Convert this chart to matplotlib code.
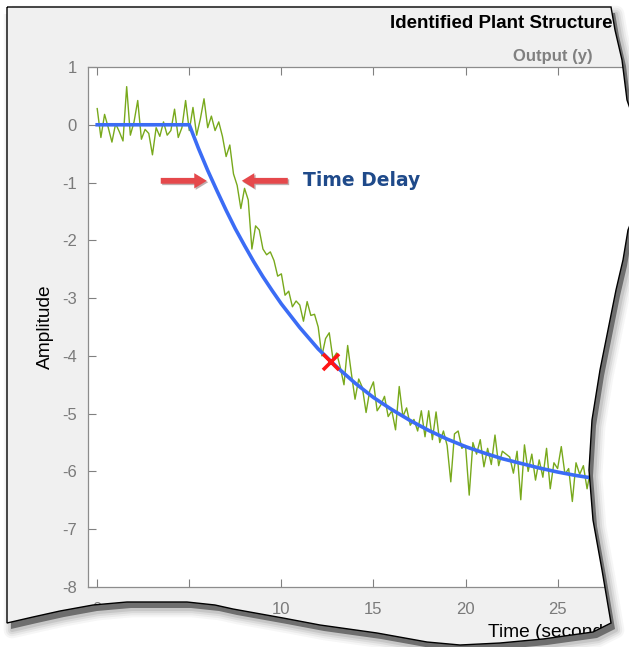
import numpy as np
import matplotlib
matplotlib.use('Agg')
import matplotlib.pyplot as plt
from matplotlib.path import Path
from matplotlib.patches import PathPatch, Polygon
import matplotlib.patheffects as pe

plt.rcParams['font.family'] = ['Liberation Sans', 'DejaVu Sans']
plt.rcParams['axes.unicode_minus'] = False

meas_dt = 0.2
meas_y = [
    0.28, -0.22, 0.18, -0.05, -0.30, 0.02, -0.12, -0.28, 0.66, -0.18,
    0.05, 0.42, -0.25, -0.08, -0.15, -0.52, -0.05, -0.20, 0.05, -0.18,
    -0.10, 0.27, -0.22, -0.05, 0.42, -0.10, 0.30, -0.18, 0.10, 0.45,
    -0.05, 0.15, -0.10, 0.05, -0.20, -0.55, -0.35, -0.85, -1.05, -1.45,
    -1.10, -1.30, -2.15, -1.75, -1.82, -2.15, -2.25, -2.20, -2.35, -2.62,
    -2.58, -2.95, -2.88, -3.15, -3.05, -3.12, -3.40, -3.06, -3.30, -3.28,
    -3.50, -4.00, -3.70, -3.60, -4.05, -3.95, -4.20, -4.50, -3.82, -4.30,
    -4.75, -4.40, -4.55, -4.98, -4.60, -4.45, -4.95, -4.85, -4.70, -5.05,
    -4.95, -5.28, -4.53, -5.05, -4.90, -5.20, -5.10, -5.30, -4.95, -5.40,
    -4.95, -5.45, -4.97, -5.50, -5.30, -5.55, -6.18, -5.35, -5.30, -5.60,
    -5.55, -6.41, -5.50, -5.70, -5.45, -5.92, -5.60, -5.88, -5.37, -5.90,
    -5.65, -5.70, -5.75, -6.03, -5.65, -6.49, -5.54, -6.00, -5.70, -6.15,
    -5.80, -6.10, -5.60, -6.30, -5.85, -5.95, -5.57, -6.05, -5.95, -6.52,
    -5.85, -6.05, -5.90, -6.30, -5.95, -6.10, -6.00, -6.20, -6.05, -6.25,
    -6.10,
]

# identified model response
model_t = [0, 5, 5.5, 6, 6.5, 7, 7.5, 8, 8.5, 9, 9.5, 10, 11, 12, 13, 14, 15,
           16, 17, 18, 19, 20, 21, 22, 23, 24, 25, 26, 27, 28, 29, 30]
model_y = [0, 0, -0.41, -0.79, -1.14, -1.48, -1.80, -2.09, -2.37, -2.63,
           -2.87, -3.10, -3.51, -3.88, -4.19, -4.47, -4.72, -4.93, -5.12,
           -5.29, -5.44, -5.57, -5.68, -5.78, -5.86, -5.94, -6.01, -6.07,
           -6.12, -6.16, -6.19, -6.22]

tau_point = (12.7, -4.10)
xticks = [0, 5, 10, 15, 20, 25, 30, 35, 40, 45, 50]
yticks = [1, 0, -1, -2, -3, -4, -5, -6, -7, -8]

W, H = 629, 647
fig = plt.figure(figsize=(W / 100, H / 100), dpi=100, facecolor='#f0f0f0')

# axes extend past the torn right edge of the screenshot
ax = fig.add_axes([88 / W, 60 / H, 930 / W, 520 / H])
meas_t = np.arange(len(meas_y)) * meas_dt
ax.plot(meas_t, meas_y, color='#78a91c', lw=1.0)
ax.plot(model_t, model_y, color='#3b6cf5', lw=2.6)
ax.plot(*tau_point, marker='x', color='#ff1515', ms=11, mew=2.6)

ax.set_xlim(-0.5, 50)
ax.set_ylim(-8, 1)
ax.set_xticks(xticks)
ax.set_yticks(yticks)
ax.tick_params(direction='in', top=True, right=True, length=6, width=0.8,
               color='#808080', labelcolor='#7a7a7a', labelsize=12)
ax.tick_params(axis='x', pad=11)
ax.tick_params(axis='y', pad=8)
for s in ax.spines.values():
    s.set_color('#8c8c8c')
    s.set_linewidth(0.9)
ax.set_ylabel('Amplitude', fontsize=13.8, labelpad=6)
ax.set_xlabel('Time (seconds)', fontsize=13.8, labelpad=5)
ax.set_title('Output (y)', color='#808080', fontweight='bold', fontsize=12, pad=4)

fig.text(390 / W, 1 - 23 / H, 'Identified Plant Structure', fontsize=13.5,
         fontweight='bold', ha='left', va='center')

# time delay annotation
arrow = dict(arrowstyle='simple,head_length=0.9,head_width=1.1,tail_width=0.42',
             color='#e5484b', lw=0,
             path_effects=[pe.SimplePatchShadow(offset=(1, -1), alpha=0.35), pe.Normal()])
ax.annotate('', xy=(6.1, -0.97), xytext=(3.3, -0.97), arrowprops=arrow)
ax.annotate('', xy=(7.7, -0.97), xytext=(10.5, -0.97), arrowprops=arrow)
ax.text(11.2, -0.97, 'Time Delay', color='#1f4a8a', fontsize=13.5,
        fontweight='bold', family='DejaVu Sans', va='center')

# torn page overlay (pixel coordinates)
page = [(7, 7), (611, 7), (615, 30), (622, 60), (627, 100), (634, 120),
        (634, 215), (628, 230), (623, 260), (616, 290), (610, 320), (600, 370),
        (592, 420), (589, 470), (593, 520), (602, 570), (611, 623), (593, 632),
        (543, 639), (500, 643), (460, 645), (427, 642), (377, 633), (320, 625),
        (283, 618), (233, 609), (215, 605), (187, 602), (127, 602), (93, 605),
        (60, 611), (33, 617), (7, 623)]

ov = fig.add_axes([0, 0, 1, 1], zorder=10)
ov.set_xlim(0, W)
ov.set_ylim(H, 0)
ov.axis('off')
ov.patch.set_alpha(0)

outer = [(-20, -20), (W + 20, -20), (W + 20, H + 20), (-20, H + 20)]


def area(pts):
    p = np.array(pts)
    return 0.5 * np.sum(p[:, 0] * np.roll(p[:, 1], -1) - np.roll(p[:, 0], -1) * p[:, 1])


hole = page[::-1] if np.sign(area(page)) == np.sign(area(outer)) else page
verts = outer + [outer[0]] + hole + [hole[0]]
codes = ([Path.MOVETO] + [Path.LINETO] * 3 + [Path.CLOSEPOLY] +
         [Path.MOVETO] + [Path.LINETO] * (len(hole) - 1) + [Path.CLOSEPOLY])
mask = PathPatch(Path(verts, codes), facecolor='white', edgecolor='none')
ov.add_patch(mask)

# soft drop shadow outside the page
shadow_pts = [(x + 5, y + 7) for x, y in page]
for lw, a in [(12, 0.05), (9, 0.07), (6, 0.1), (3, 0.14)]:
    sh = Polygon(shadow_pts, closed=True, facecolor='none', edgecolor='#505050',
                 lw=lw, alpha=a, joinstyle='round')
    ov.add_patch(sh)
    sh.set_clip_path(mask)
sh = Polygon([(x - 1, y - 1) for x, y in shadow_pts], closed=True,
             facecolor='#6e6e6e', edgecolor='none')
ov.add_patch(sh)
sh.set_clip_path(mask)

ov.add_patch(Polygon(page, closed=True, facecolor='none', edgecolor='black', lw=1.0))

fig.savefig('out.png', dpi=100, facecolor=fig.get_facecolor())
